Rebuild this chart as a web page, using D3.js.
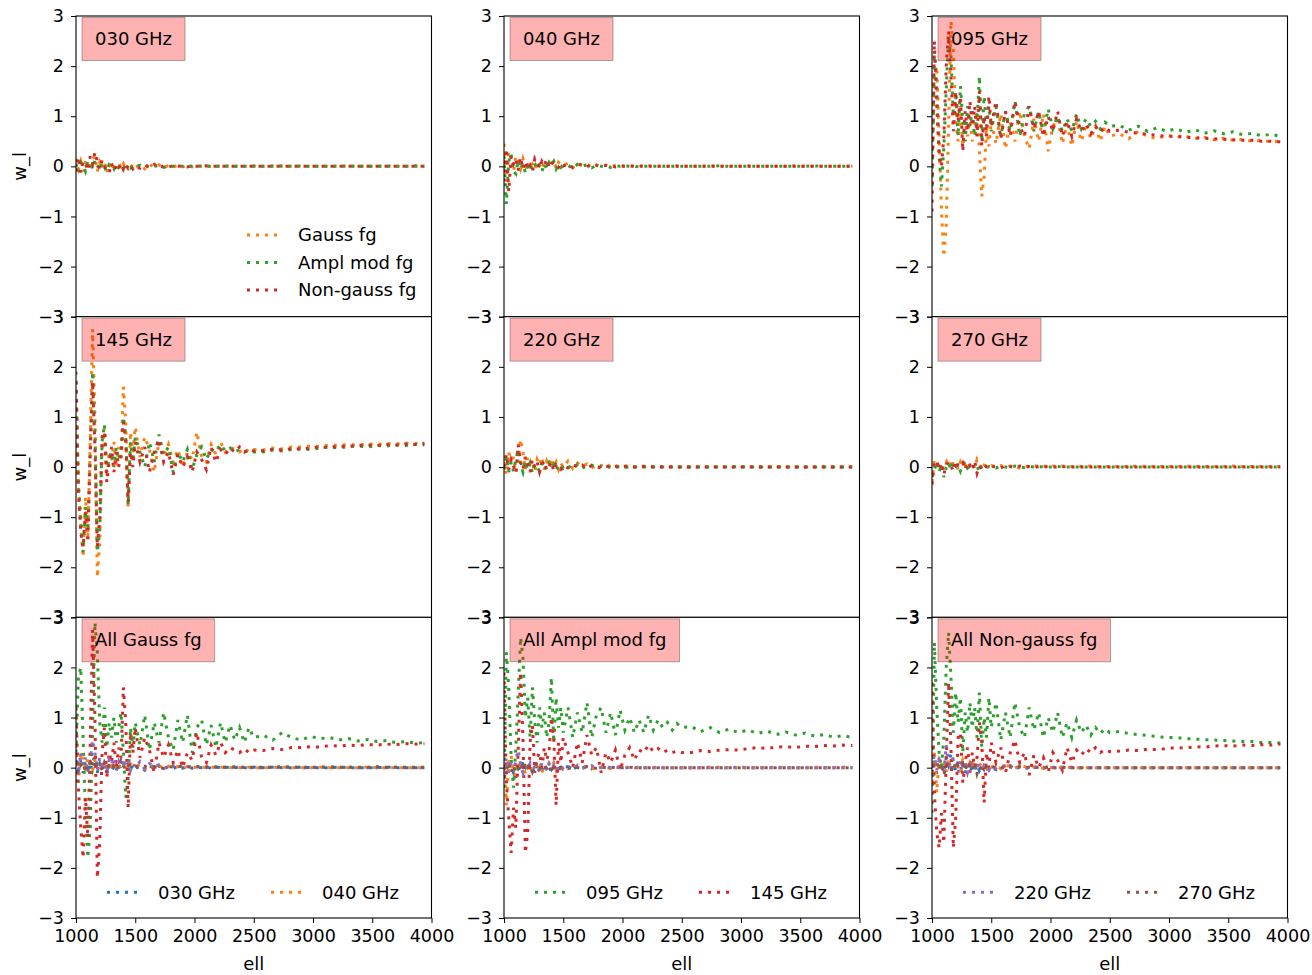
<!DOCTYPE html>
<html>
<head>
<meta charset="utf-8">
<script src="https://cdn.jsdelivr.net/npm/d3@7"></script>
<style>
  body { margin: 0; background: #fff; }
  svg { font-family: "DejaVu Sans", sans-serif; }
</style>
</head>
<body>
<svg id="fig" width="1312" height="975"></svg>
<script>
// multipole bins (x axis)
var ell = [1000,1020,1040,1060,1080,1100,1120,1140,1160,1180,1200,1220,1240,1260,1280,1300,1320,1340,1360,1380,1400,1420,1440,1460,1480,1500,
  1540,1580,1620,1660,1700,1740,1780,1820,1860,1900,1940,1980,2020,2060,2100,2140,2180,2220,2260,2300,2340,2380,2420,2460,2500,
  2580,2660,2740,2820,2900,2980,3060,3140,3220,3300,3380,3460,3540,3620,3700,3780,3860,3940];

// w_l per frequency, one array per foreground type
var gauss030 = [0.15,-0.05,0.1,-0.1,0.12,0.05,-0.08,0.15,0.2,-0.1,0.08,-0.05,0.1,-0.12,0.05,-0.08,0.03,-0.06,0.08,-0.04,0.05,-0.07,0.04,-0.03,0.05,-0.02,
  0.03,-0.05,0.04,-0.02,0.03,-0.03,0.02,-0.02,0.03,-0.01,0.02,-0.01,0.01,0,0.01,-0.01,0.01,0,0.01,0,0,0.01,0,0,0.01,
  0,0.01,0,0,0.01,0,0,0,0.01,0,0,0,0,0.01,0,0,0,0];
var ampl030 = [0.05,-0.12,0.08,0.02,-0.1,0.1,0.05,-0.05,0.12,0.02,-0.08,0.06,-0.02,-0.1,0.04,0.02,-0.05,0.05,-0.02,0.03,-0.04,0.02,0.01,-0.03,0.02,0,
  0.02,-0.03,0.02,0,0.02,-0.02,0.01,0,0.02,0,0.01,0,0.01,0,0,0.01,0,0,0,0.01,0,0,0,0,0,
  0,0,0.01,0,0,0,0,0,0,0.01,0,0,0,0,0,0,0.01,0];
var nong030 = [-0.1,0.18,-0.12,0.1,0.05,-0.08,0.2,0.05,0.28,0.1,-0.05,0.12,0.02,-0.1,-0.12,0.06,-0.08,0.02,-0.05,0.06,-0.06,0.03,-0.04,0.02,-0.05,0.01,
  -0.04,0.03,-0.02,0.04,-0.03,0.01,-0.02,0.02,0,0.01,-0.01,0.01,0,0,0.01,0,0,0,0,0,0,0,0,0,0,
  0,0,0,0,0,0,0,0,0,0,0,0,0,0,0,0,0,0];

var gauss040 = [0.45,-0.3,0.3,0.15,-0.1,0.2,0.1,-0.05,0.15,0,-0.08,0.12,0.05,-0.06,0.1,0.02,-0.05,0.1,0.05,-0.03,0.06,0.12,-0.04,0.08,0.04,0.02,
  0.06,-0.03,0.05,0.02,0.05,-0.02,0.03,0.01,0.02,-0.01,0.02,0,0.01,0.01,0,0.01,0,0.01,0,0,0.01,0,0,0.01,0,
  0,0,0.01,0,0,0,0.01,0,0,0,0,0.01,0,0,0,0,0,0];
var ampl040 = [0.2,-0.75,0.1,0.25,-0.1,-0.15,0.12,-0.05,0.05,-0.12,0,-0.1,0.08,0.05,-0.06,0.02,-0.1,0.05,-0.05,0.08,0.02,0.1,-0.05,0.04,-0.02,0.03,
  0.02,-0.04,0.04,0,0.03,-0.03,0.02,0,0.01,-0.02,0.01,0,0.01,0,0,-0.01,0,0,0,0,0,0,0,0,0,
  0,0,0,0.01,0,0,0,0,0,0,0,0,0,0.01,0,0,0,0];
var nong040 = [-0.3,0.35,-0.5,0.2,0.05,0.15,-0.08,0.18,-0.05,0.1,-0.06,0.02,-0.1,0.15,0.06,-0.04,0.1,0.02,0.14,-0.03,0.05,0.08,0.03,-0.02,0.06,0.01,
  0.05,-0.02,0.04,0.03,-0.01,0.04,0.02,0,0.02,0.01,-0.01,0.01,0,0.01,0,0,0.01,0,0,0,0,0,0,0,0,
  0,0,0,0,0,0,0,0,0,0,0,0,0,0,0,0,0,0];

var gauss095 = [0.3,1.8,2.0,0.6,-0.9,-1.8,-1.2,0.8,2.9,2.3,0.9,0.5,1.2,0.4,0.9,0.6,1.0,0.5,0.8,1.1,0.3,-0.6,-0.2,0.8,0.4,0.9,
  0.45,1.05,0.35,0.9,0.5,1.1,0.6,0.35,0.95,0.5,1.05,0.3,0.8,0.95,0.45,0.85,0.4,0.9,0.5,0.85,0.55,0.8,0.5,0.8,0.6,
  0.65,0.55,0.7,0.6,0.55,0.62,0.58,0.6,0.55,0.58,0.53,0.56,0.52,0.54,0.5,0.52,0.49,0.5];
var ampl095 = [-0.4,2.3,1.6,0.2,-0.4,0.4,1.5,2.6,2.2,1.0,1.4,0.6,1.6,0.9,0.5,1.2,0.8,1.1,0.6,0.9,1.8,0.5,1.4,0.8,1.2,0.7,
  1.2,0.6,1.1,0.7,1.3,0.6,1.05,1.2,0.7,1.1,0.65,1.15,0.75,1.0,0.7,0.95,0.7,1.05,0.75,0.95,0.8,0.9,0.75,0.88,0.8,
  0.82,0.72,0.8,0.7,0.77,0.7,0.75,0.68,0.73,0.66,0.71,0.65,0.69,0.63,0.66,0.61,0.64,0.6];
var nong095 = [-0.9,2.5,1.2,0.3,0,0.6,2.0,2.7,1.8,0.7,1.5,0.9,1.4,0.3,1.1,0.7,1.3,0.8,1.2,0.6,1.5,0.4,1.0,0.6,1.4,0.8,
  1.3,0.55,1.1,0.6,1.3,0.8,0.6,1.2,0.75,1.1,0.6,1.0,0.7,1.1,0.6,0.9,0.6,0.95,0.7,0.85,0.65,0.8,0.68,0.78,0.7,
  0.72,0.68,0.66,0.64,0.62,0.6,0.6,0.58,0.57,0.56,0.55,0.54,0.53,0.52,0.52,0.5,0.5,0.49];

var gauss145 = [1.2,-0.4,-1.2,-1.8,-0.6,-1.4,0.5,2.75,1.0,-2.2,-1.5,0.3,0.8,-0.2,0.3,0.1,0.5,0,0.4,0.2,1.6,0.9,-0.8,0.7,0.3,0.8,
  0.2,0.6,0.35,-0.1,0.5,0.2,0.45,0.1,0.35,0,0.3,0.15,0.7,0.2,0.1,0.45,0.25,0.5,0.3,0.4,0.35,0.3,0.38,0.3,0.35,
  0.34,0.38,0.36,0.4,0.4,0.42,0.41,0.44,0.43,0.45,0.44,0.46,0.45,0.47,0.46,0.48,0.47,0.48];
var ampl145 = [1.9,-0.3,-1.0,-1.7,-0.8,-1.2,0.4,1.9,0.6,-1.7,-1.3,0.5,0.85,-0.1,0.2,0.3,0,0.4,0.15,0.3,1.0,0.6,-0.75,0.5,0.1,0.6,
  0.3,0,0.5,0.1,0.65,0.25,0.4,-0.1,0.3,0.1,0.35,-0.05,0.25,0.4,0.15,0.35,0.3,0.45,0.32,0.38,0.3,0.35,0.3,0.33,0.3,
  0.3,0.34,0.32,0.35,0.36,0.35,0.38,0.4,0.38,0.41,0.42,0.4,0.43,0.42,0.44,0.43,0.45,0.44];
var nong145 = [1.7,-0.5,-1.3,-1.6,-0.9,-1.5,0.2,1.7,0.4,-1.6,-1.0,0.6,0.7,-0.3,0.1,0.4,-0.1,0.3,0,0.2,0.9,0.5,-0.7,0.3,0,0.5,
  0.1,0.4,-0.1,0.3,0.55,0.1,0.3,-0.15,0.25,0,0.2,-0.1,0.3,0.15,-0.05,0.4,0.1,0.35,0.25,0.38,0.3,0.4,0.3,0.36,0.32,
  0.33,0.35,0.34,0.37,0.36,0.38,0.4,0.39,0.42,0.41,0.43,0.44,0.43,0.45,0.44,0.46,0.45,0.47];

var gauss220 = [0.1,-0.15,0.3,0.05,0.2,-0.1,0.15,0.55,0.3,-0.05,0.2,0.05,0.1,-0.1,0.15,0.05,0.2,-0.05,0.12,0.02,0.18,0,0.1,-0.05,0.08,0,
  0.12,-0.03,0.08,0.02,0.06,-0.02,0.04,0.03,0.08,0,0.03,0.01,0.02,0.03,0,0.01,0.02,0,0.01,0,0.01,0,0.01,0,0,
  0,0.01,0,0.01,0,0,0.01,0,0,0.01,0,0,0,0,0.01,0,0,0];
var ampl220 = [-0.05,0.2,-0.1,0.1,-0.08,0.15,0.35,0.05,-0.1,0.12,-0.05,0.08,-0.12,0.05,0,-0.08,0.1,0.02,-0.05,0.08,-0.02,0.05,-0.06,0.02,0.06,-0.03,
  0.03,-0.04,0.05,-0.02,0.02,0.04,-0.02,0.01,0.02,-0.01,0.01,0,-0.01,0.01,0,0,0,0.01,0,0,0,0,0,0,0,
  0,0,0,0,0,0.01,0,0,0,0,0,0,0,0,0,0,0,0];
var nong220 = [0,0.25,-0.05,0.15,0.02,-0.12,0.45,0.1,-0.05,0.2,0.05,-0.1,0.15,0,0.1,-0.1,0.05,0.12,-0.06,0,0.1,-0.08,0.05,0.02,-0.04,0.04,
  -0.02,0.05,0,0.04,-0.03,0.03,0.01,-0.02,0.02,0,0.01,-0.01,0.01,0,0,0,0.01,0,0,0,0,0,0,0,0,
  0,0,0,0,0,0,0,0,0,0,0,0,0,0,0,0,0,0];

var gauss270 = [-0.3,0.15,0.05,0.1,-0.1,0.08,0.12,0,0.15,0.05,0.08,-0.05,0.1,0,0.05,0.12,0.02,0.08,-0.02,0.15,0.05,-0.05,0.04,0.02,0,0.03,
  0.01,0.03,-0.01,0.02,0.01,-0.02,0.02,0.01,0.03,0.01,0.02,0.01,0.02,0.01,0.02,0.01,0.01,0.02,0.01,0.01,0.02,0.01,0.01,0.01,0.01,
  0.01,0.01,0.02,0.01,0.01,0.01,0.01,0.02,0.01,0.01,0.01,0.01,0.02,0.01,0.01,0.01,0.01,0.01];
var ampl270 = [-0.2,-0.05,0.1,-0.1,0.05,-0.2,0,0.08,-0.05,0.1,0.02,0.06,-0.08,0.05,0.1,-0.02,0.03,0.07,-0.04,0.02,-0.1,0.01,0.03,-0.02,0.01,0,
  -0.02,0.01,0,-0.01,0.02,0,-0.01,0.01,0,0,0.01,0,0,0.01,0,0,0,0,0,0,0,0,0,0,0,
  0,0,0,0,0,0,0,0,0,0,0,0,0,0,0,0,0,0];
var nong270 = [-0.35,0.1,0.12,-0.05,0.08,-0.15,0.05,0.1,0.02,-0.08,0.12,0.03,0,0.08,-0.05,0.1,0.04,-0.06,0.12,-0.12,0.02,-0.03,0.05,0,-0.02,0.02,
  0,-0.02,0.03,0.01,-0.01,0.02,0,0.01,-0.01,0.01,0,0.01,0,0,0.01,0,0,0,0,0,0,0,0,0,0,
  0,0,0,0,0,0,0,0,0,0,0,0,0,0,0,0,0,0];

var freqs = ['030 GHz','040 GHz','095 GHz','145 GHz','220 GHz','270 GHz'];
var fgNames = ['Gauss fg','Ampl mod fg','Non-gauss fg'];
var allTitles = ['All Gauss fg','All Ampl mod fg','All Non-gauss fg'];
var yTicks = [-3,-2,-1,0,1,2,3];
var xTicks = [1000,1500,2000,2500,3000,3500,4000];

// tab10 colours
var freqColors = ['#1f77b4','#ff7f0e','#2ca02c','#d62728','#9467bd','#8c564b'];
var fgColors = ['#ff7f0e','#2ca02c','#d62728'];

var byFreq = [
  [gauss030, ampl030, nong030],
  [gauss040, ampl040, nong040],
  [gauss095, ampl095, nong095],
  [gauss145, ampl145, nong145],
  [gauss220, ampl220, nong220],
  [gauss270, ampl270, nong270]
];

var svg = d3.select('#fig');
var colX = [76, 504, 932], rowY = [16, 316.7, 617.3];
var pw = 355.5, ph = 300.7;
var dash = '3,6', lw = 3;

var x = d3.scaleLinear().domain([1000, 4000]).range([0, pw]);
var y = d3.scaleLinear().domain([-3, 3]).range([ph, 0]);
var line = d3.line()
    .x(function(d, i) { return x(ell[i]); })
    .y(function(d) { return y(d); });

function drawPanel(row, col, series, colors, title) {
    var g = svg.append('g').attr('transform', 'translate(' + colX[col] + ',' + rowY[row] + ')');
    var id = 'clip' + row + col;

    g.append('rect').attr('width', pw).attr('height', ph).attr('fill', '#fff');
    g.append('clipPath').attr('id', id)
        .append('rect').attr('width', pw).attr('height', ph);

    var lines = g.append('g').attr('clip-path', 'url(#' + id + ')');
    series.forEach(function(s, k) {
        lines.append('path')
            .attr('d', line(s))
            .attr('fill', 'none')
            .attr('stroke', colors[k])
            .attr('stroke-width', lw)
            .attr('stroke-dasharray', dash);
    });

    var ya = g.append('g').call(d3.axisLeft(y).tickValues(yTicks).tickFormat(d3.format('d')).tickSize(5).tickPadding(7));
    ya.select('.domain').remove();
    ya.selectAll('text').attr('font-size', '17.5px').attr('fill', '#000')
        .attr('font-family', '"DejaVu Sans", sans-serif');
    ya.selectAll('line').attr('stroke', '#000');

    if (row == 2) {
        var xa = g.append('g').attr('transform', 'translate(0,' + ph + ')')
            .call(d3.axisBottom(x).tickValues(xTicks).tickFormat(d3.format('d')).tickSize(5).tickPadding(7));
        xa.select('.domain').remove();
        xa.selectAll('text').attr('font-size', '17.5px').attr('fill', '#000')
            .attr('font-family', '"DejaVu Sans", sans-serif');
        xa.selectAll('line').attr('stroke', '#000');
        g.append('text').attr('x', pw / 2).attr('y', 353).attr('text-anchor', 'middle')
            .attr('font-size', '18px').text('ell');
    }
    if (col == 0) {
        g.append('text').attr('transform', 'translate(-50,' + (ph / 2) + ') rotate(-90)')
            .attr('text-anchor', 'middle').attr('font-size', '18px').text('w_l');
    }

    g.append('rect').attr('width', pw).attr('height', ph)
        .attr('fill', 'none').attr('stroke', '#000').attr('stroke-width', 1.1);

    // label box
    var lab = g.append('g');
    var box = lab.append('rect');
    var t = lab.append('text').attr('x', 19).attr('y', 29).attr('font-size', '18px').text(title);
    var tw = t.node().getComputedTextLength();
    box.attr('x', 6).attr('y', 1.5).attr('width', tw + 26).attr('height', 43)
        .attr('fill', 'red').attr('fill-opacity', 0.3)
        .attr('stroke', '#000').attr('stroke-opacity', 0.3).attr('stroke-width', 1);
    t.raise();
    return g;
}

function legendItem(g, lx, ly, color, text) {
    g.append('line').attr('x1', lx).attr('x2', lx + 35).attr('y1', ly).attr('y2', ly)
        .attr('stroke', color).attr('stroke-width', lw).attr('stroke-dasharray', dash);
    g.append('text').attr('x', lx + 51).attr('y', ly).attr('dy', '0.35em')
        .attr('font-size', '18px').text(text);
}

// top two rows: one frequency per panel, three foreground types
for (var i = 0; i < 6; i++) {
    var pg = drawPanel(Math.floor(i / 3), i % 3, byFreq[i], fgColors, freqs[i]);
    if (i == 0) {
        fgNames.forEach(function(n, k) { legendItem(pg, 171, 219 + k * 27.5, fgColors[k], n); });
    }
}

// bottom row: one foreground type per panel, all frequencies
for (var j = 0; j < 3; j++) {
    var ser = byFreq.map(function(f) { return f[j]; });
    var bg = drawPanel(2, j, ser, freqColors, allTitles[j]);
    legendItem(bg, 31, 275, freqColors[j * 2], freqs[j * 2]);
    legendItem(bg, 195, 275, freqColors[j * 2 + 1], freqs[j * 2 + 1]);
}
</script>
</body>
</html>
